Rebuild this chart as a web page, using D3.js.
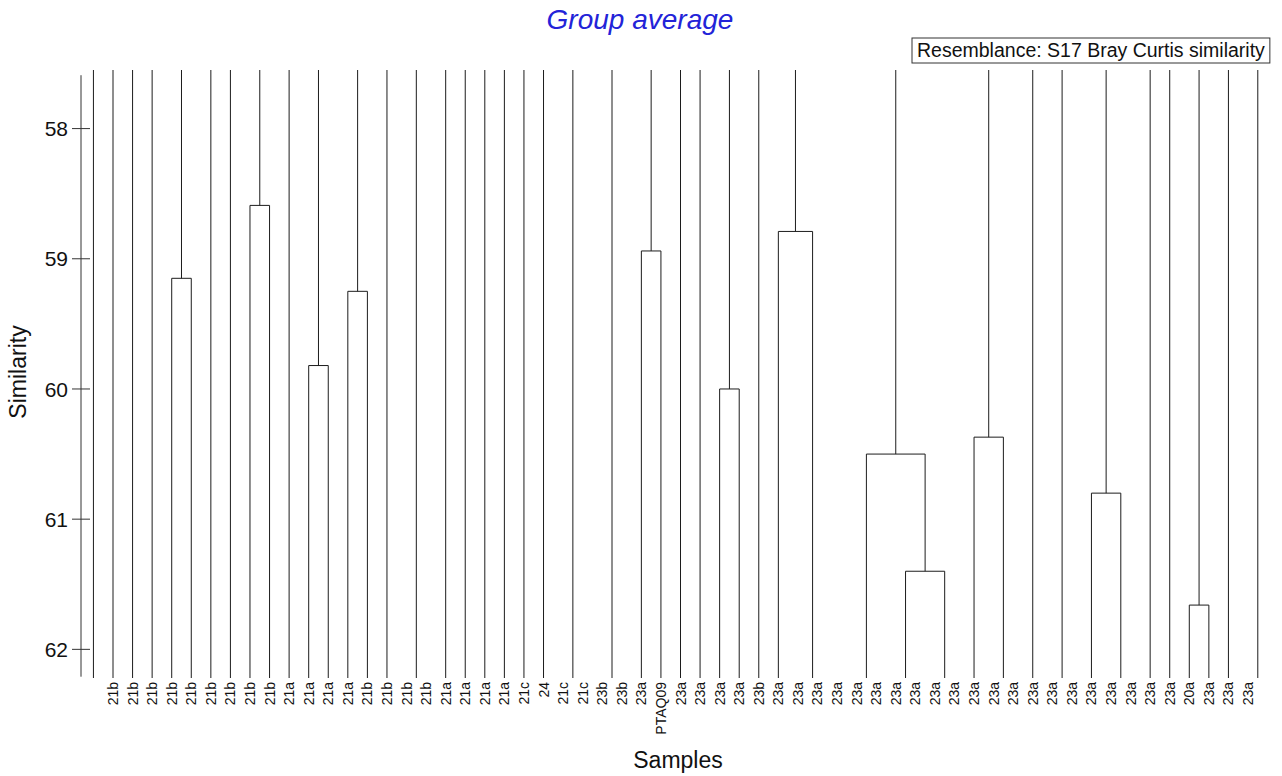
<!DOCTYPE html>
<html>
<head>
<meta charset="utf-8">
<script src="https://cdn.jsdelivr.net/npm/d3@7"></script>
<style>
  html, body { margin: 0; padding: 0; background: #fff; }
  svg { display: block; font-family: "Liberation Sans", Arial, sans-serif; }
</style>
</head>
<body>
<svg id="chart" width="1282" height="776"></svg>
<script>
// Sample labels, in dendrogram leaf order
const sampleLabels = [
  "21b","21b","21b","21b","21b","21b","21b","21b","21b",
  "21a","21a","21a","21a",
  "21b","21b","21b","21b",
  "21a","21a","21a","21a",
  "21c","24","21c","21c","23b","23b","23a","PTAQ09",
  "23a","23a","23a","23a","23b",
  "23a","23a","23a","23a","23a","23a","23a","23a","23a","23a","23a",
  "23a","23a","23a","23a","23a","23a","23a","23a","23a","23a",
  "20a","23a","23a","23a"
];

// Merges that happen inside the shown similarity range:
// left / right = leaf-order position of each branch, sim = similarity of the merge
const joins = [
  { id: "A", left: 3,    right: 4,     sim: 59.15 },
  { id: "B", left: 7,    right: 8,     sim: 58.59 },
  { id: "C", left: 10,   right: 11,    sim: 59.82 },
  { id: "D", left: 12,   right: 13,    sim: 59.25 },
  { id: "E", left: 27,   right: 28,    sim: 58.94 },
  { id: "F", left: 31,   right: 32,    sim: 60.00 },
  { id: "G", left: 34,   right: 35.75, sim: 58.79 },
  { id: "I", left: 40.5, right: 42.5,  sim: 61.40 },
  { id: "H", left: 38.5, right: 41.5,  sim: 60.50 },
  { id: "J", left: 44,   right: 45.5,  sim: 60.37 },
  { id: "K", left: 50,   right: 51.5,  sim: 60.80 },
  { id: "L", left: 55,   right: 56,    sim: 61.66 }
];

// Branches that run through the whole shown range without a visible merge
const openBranches = [
  -1, 0, 1, 2, 5, 6, 9, 14, 15.5, 17, 18, 19, 20, 21, 22, 23.5, 25.5,
  29, 30, 33, 47, 48.5, 53, 54, 57, 58.5
];

const yTicks = [58, 59, 60, 61, 62];
const simTop = 57.55, simBottom = 62.22;

const svg = d3.select("#chart");
const x = d3.scaleLinear().domain([0, sampleLabels.length - 1]).range([113, 1248]);
const y = d3.scaleLinear().domain([simTop, simBottom]).range([70, 678]);

const lineColor = "#1c1c1c";
const tree = svg.append("g").attr("fill", "none").attr("stroke", lineColor).attr("stroke-width", 1);

// stem position of each merge (midpoint of its two branches)
joins.forEach(j => { j.mid = (j.left + j.right) / 2; });
const byMid = new Map(joins.map(j => [j.mid, j]));
// parent of each merge: a merge whose branch sits on this merge's stem
joins.forEach(j => {
  j.parent = joins.find(p => p !== j && (p.left === j.mid || p.right === j.mid)) || null;
});

const segs = [];
openBranches.forEach(p => segs.push([p, simTop, p, simBottom]));
joins.forEach(j => {
  segs.push([j.left, j.sim, j.right, j.sim]);
  segs.push([j.mid, j.sim, j.mid, j.parent ? j.parent.sim : simTop]);
  [j.left, j.right].forEach(b => {
    const child = byMid.get(b);
    if (!child || child === j) segs.push([b, j.sim, b, simBottom]);
  });
});

tree.selectAll("line").data(segs).join("line")
  .attr("x1", d => x(d[0])).attr("y1", d => y(d[1]))
  .attr("x2", d => x(d[2])).attr("y2", d => y(d[3]));

// Y axis
const axisX = 81;
const yAxis = svg.append("g").attr("transform", `translate(${axisX},0)`);
yAxis.append("line").attr("x1", 0).attr("x2", 0)
  .attr("y1", y(57.59)).attr("y2", y(62.21))
  .attr("stroke", "#333").attr("stroke-width", 1);
yAxis.selectAll("line.tick").data(yTicks).join("line").attr("class", "tick")
  .attr("x1", -9).attr("x2", 9)
  .attr("y1", d => y(d)).attr("y2", d => y(d))
  .attr("stroke", "#333").attr("stroke-width", 1);
yAxis.selectAll("text").data(yTicks).join("text")
  .attr("x", -13).attr("y", d => y(d)).attr("dy", "0.36em")
  .attr("text-anchor", "end").attr("font-size", 21).attr("fill", "#111")
  .text(d => d);

// Leaf labels
svg.append("g").selectAll("text").data(sampleLabels).join("text")
  .attr("transform", (d, i) => `translate(${x(i) + 5},682) rotate(-90)`)
  .attr("text-anchor", "end").attr("font-size", 14).attr("fill", "#111")
  .text(d => d);

// Titles
svg.append("text").attr("x", 640).attr("y", 29).attr("text-anchor", "middle")
  .attr("font-size", 28).attr("font-style", "italic").attr("fill", "#2323d8")
  .text("Group average");
svg.append("text").attr("transform", "translate(26,372) rotate(-90)")
  .attr("text-anchor", "middle").attr("font-size", 23).attr("fill", "#111")
  .text("Similarity");
svg.append("text").attr("x", 678).attr("y", 768).attr("text-anchor", "middle")
  .attr("font-size", 23).attr("fill", "#111")
  .text("Samples");

// Resemblance box
const box = svg.append("g").attr("transform", "translate(912,38)");
const boxText = box.append("text").attr("x", 5).attr("y", 19)
  .attr("font-size", 19.5).attr("fill", "#111")
  .text("Resemblance: S17 Bray Curtis similarity");
const tw = boxText.node().getComputedTextLength();
box.insert("rect", "text").attr("x", 0).attr("y", 0)
  .attr("width", tw + 10).attr("height", 25)
  .attr("fill", "#fff").attr("stroke", "#333").attr("stroke-width", 1);
</script>
</body>
</html>
